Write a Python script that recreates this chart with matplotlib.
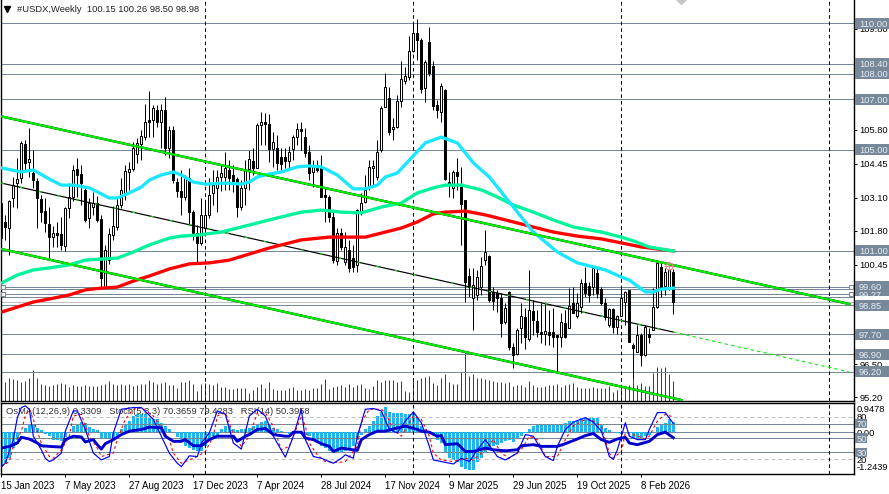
import matplotlib
matplotlib.use("Agg")
import matplotlib.pyplot as plt
from matplotlib.patches import Rectangle

# weekly candles, one row of OHLC per 10 bars
opens = [
    102.89, 102.14, 101.90, 103.09, 103.68, 103.88, 105.23, 104.51, 104.08, 103.76,
    103.05, 102.57, 102.06, 101.55, 101.70, 101.66, 101.19, 102.69, 103.13, 104.24,
    104.04, 103.41, 102.30, 102.73, 102.89, 102.26, 99.56, 100.63, 101.62, 101.94,
    102.81, 103.29, 104.12, 104.24, 104.83, 105.23, 105.50, 106.18, 106.18, 106.57,
    106.10, 106.57, 105.07, 105.78, 103.72, 103.37, 103.13, 103.88, 102.53, 101.70,
    101.31, 101.90, 102.42, 103.29, 103.49, 103.92, 103.92, 104.20, 104.00, 103.84,
    102.73, 103.49, 104.24, 104.55, 104.28, 105.98, 106.10, 106.02, 105.03, 105.07,
    104.71, 104.71, 104.55, 105.03, 105.50, 105.82, 105.50, 104.91, 104.12, 104.28,
    104.28, 103.21, 103.13, 102.34, 100.59, 101.70, 100.56, 101.03, 100.71, 100.44,
    102.50, 102.93, 103.52, 104.28, 103.92, 104.99, 106.69, 107.05, 105.82, 105.90,
    106.93, 107.72, 107.88, 108.91, 109.62, 109.35, 107.45, 109.27, 108.32, 106.77,
    106.49, 107.37, 103.72, 103.49, 104.12, 103.52, 103.01, 100.00, 99.13, 99.25,
    99.56, 100.63, 100.79, 99.37, 99.33, 99.13, 98.18, 99.37, 97.19, 96.91,
    97.94, 98.38, 97.51, 98.61, 98.22, 97.78, 97.70, 97.78, 97.78, 97.66,
    97.58, 98.14, 97.94, 98.93, 98.42, 98.77, 99.72, 99.60, 99.56, 100.12,
    99.49, 98.93, 98.06, 98.69, 97.98, 98.42, 98.97, 99.45, 97.27, 96.99,
    97.66, 96.87, 97.70, 97.86, 98.77, 100.36, 99.60, 99.56, 100.15,
]
highs = [
    103.01, 102.42, 103.01, 103.92, 104.67, 105.35, 105.39, 105.86, 104.99, 103.88,
    103.21, 103.09, 102.73, 101.98, 102.14, 102.34, 102.73, 103.68, 104.40, 104.67,
    104.40, 103.56, 103.09, 103.33, 103.17, 102.42, 101.23, 101.90, 102.77, 103.13,
    103.88, 104.40, 104.51, 105.31, 105.46, 105.78, 106.81, 107.33, 106.77, 106.77,
    106.81, 107.09, 105.94, 105.94, 103.88, 104.20, 104.00, 104.28, 102.61, 102.02,
    103.09, 103.01, 103.88, 104.20, 104.20, 104.40, 104.91, 104.59, 104.40, 103.92,
    103.80, 104.59, 104.99, 105.07, 106.06, 106.49, 106.45, 106.42, 105.70, 105.58,
    105.07, 105.07, 105.15, 105.58, 106.06, 106.10, 105.86, 105.19, 104.59, 104.59,
    104.79, 103.49, 103.21, 102.53, 101.90, 101.90, 101.74, 101.43, 101.23, 102.65,
    103.29, 104.00, 104.59, 104.59, 105.39, 106.73, 108.04, 107.48, 106.26, 107.17,
    108.51, 108.28, 109.50, 109.98, 110.18, 109.43, 108.55, 109.86, 108.51, 106.97,
    107.64, 107.41, 104.12, 104.20, 104.67, 104.32, 103.01, 100.32, 100.32, 100.24,
    100.75, 101.82, 100.83, 99.56, 99.45, 99.33, 98.93, 99.41, 97.35, 97.94,
    98.93, 98.73, 100.24, 99.05, 98.65, 98.93, 98.97, 98.65, 98.73, 97.66,
    98.54, 98.65, 99.52, 99.56, 99.33, 99.88, 100.36, 99.76, 100.32, 100.32,
    99.56, 99.13, 98.73, 98.73, 98.46, 99.52, 99.41, 99.45, 97.35, 98.06,
    97.74, 98.06, 97.94, 99.52, 100.52, 100.52, 100.32, 100.56, 100.26,
]
lows = [
    101.03, 101.43, 100.83, 102.73, 102.69, 103.68, 104.20, 103.92, 103.49, 101.90,
    102.14, 101.74, 100.71, 101.15, 101.15, 101.03, 100.99, 102.30, 102.97, 103.13,
    102.81, 102.14, 101.90, 102.42, 102.14, 99.56, 99.56, 100.48, 101.43, 101.82,
    102.69, 103.01, 103.41, 104.16, 104.48, 104.59, 105.39, 105.50, 105.50, 105.90,
    105.07, 104.79, 104.67, 103.68, 103.13, 102.42, 103.01, 102.02, 101.43, 100.56,
    101.23, 101.62, 102.30, 102.81, 102.53, 103.37, 103.41, 103.41, 103.33, 102.34,
    102.61, 102.81, 103.41, 104.00, 104.28, 105.19, 105.19, 104.51, 104.32, 104.20,
    104.20, 104.28, 104.20, 104.59, 105.19, 104.99, 104.71, 103.80, 103.53, 104.12,
    103.13, 102.14, 102.14, 100.52, 100.44, 101.03, 100.44, 100.16, 100.16, 100.16,
    102.42, 102.89, 103.41, 103.53, 103.80, 104.91, 106.69, 105.58, 105.39, 105.86,
    106.69, 107.60, 107.76, 108.87, 108.55, 107.25, 106.89, 107.92, 106.57, 106.26,
    106.10, 103.80, 103.13, 103.09, 103.41, 101.23, 98.97, 99.17, 97.86, 99.05,
    99.25, 100.44, 98.97, 98.65, 98.57, 97.58, 98.10, 97.07, 96.36, 96.87,
    97.35, 97.11, 97.43, 97.66, 97.58, 97.35, 97.27, 97.27, 97.19, 96.20,
    97.19, 97.54, 97.94, 98.54, 98.34, 98.54, 99.17, 98.97, 99.25, 99.13,
    98.85, 98.26, 97.98, 97.74, 97.70, 98.42, 98.06, 97.39, 95.96, 96.99,
    96.44, 96.83, 97.35, 97.86, 98.73, 99.17, 99.25, 99.45, 98.50,
]
closes = [
    101.51, 101.94, 102.97, 103.60, 103.84, 105.27, 104.48, 104.63, 103.80, 103.09,
    102.53, 102.10, 101.55, 101.70, 101.62, 101.23, 102.69, 103.13, 104.20, 104.00,
    103.68, 102.22, 102.89, 102.89, 102.22, 99.92, 101.03, 101.66, 101.98, 102.81,
    103.41, 104.16, 104.24, 105.07, 105.27, 105.54, 106.10, 106.10, 106.65, 106.10,
    106.57, 105.07, 105.78, 103.80, 103.37, 103.13, 103.88, 102.53, 101.70, 101.31,
    102.42, 102.42, 103.21, 103.60, 103.92, 104.08, 104.28, 103.88, 103.72, 102.73,
    103.49, 104.20, 104.63, 104.28, 105.98, 106.10, 106.02, 105.03, 105.31, 104.48,
    104.44, 104.55, 104.91, 105.50, 105.82, 105.74, 104.87, 104.08, 104.32, 104.20,
    103.13, 103.13, 102.34, 100.63, 101.70, 101.15, 101.15, 100.32, 100.36, 102.61,
    102.89, 103.41, 104.32, 104.36, 104.91, 106.65, 107.48, 105.70, 105.90, 106.93,
    107.80, 107.92, 108.91, 109.62, 109.35, 107.41, 108.47, 108.04, 106.73, 106.57,
    107.52, 103.84, 103.68, 104.12, 103.96, 102.85, 99.76, 99.56, 99.64, 99.96,
    100.40, 100.95, 99.05, 99.01, 99.13, 98.14, 98.73, 97.19, 96.87, 97.86,
    98.42, 97.58, 98.65, 98.26, 97.78, 97.70, 97.82, 97.66, 97.58, 97.58,
    98.18, 97.58, 98.81, 98.54, 98.93, 99.72, 99.33, 99.25, 100.32, 99.33,
    98.93, 98.38, 98.69, 97.98, 98.42, 99.13, 99.37, 97.39, 97.15, 97.66,
    96.87, 97.98, 97.58, 98.77, 100.52, 99.56, 100.16, 100.24, 98.98,
]
volumes = [
    24, 19, 23, 22, 21, 19, 20, 23, 31, 23, 17, 16, 15, 16, 17, 18,
    17, 14, 16, 15, 15, 16, 15, 15, 15, 16, 17, 20, 17, 16, 17, 16, 17, 15, 16, 17,
    17, 21, 19, 17, 18, 19, 16, 16, 13, 19, 19, 21, 17, 10, 17, 18, 17, 16, 18, 14,
    14, 12, 12, 13, 13, 13, 8, 11, 14, 17, 13, 19, 12, 11, 11, 11, 13, 14, 11,
    11, 12, 11, 13, 13, 17, 22, 12, 14, 15, 16, 14, 17, 14, 16, 17, 13, 12, 15, 21,
    19, 21, 21, 21, 19, 20, 10, 9, 22, 21, 23, 24, 25, 18, 16, 23, 27, 19, 17, 17,
    29, 49, 25, 27, 23, 23, 22, 21, 20, 19, 19, 18, 19, 15, 16, 16, 14, 20, 16, 14,
    14, 15, 16, 16, 17, 14, 16, 17, 18, 14, 13, 13, 13, 14, 13,
    13, 13, 15, 9, 11, 14, 15, 16, 24, 16, 18, 15, 15, 28, 34, 33, 34, 27, 20,
]

# moving averages, read at the bars where they bend
ma_fast_bars = [0, 5, 8, 12, 15, 18, 22, 25, 27, 29, 32, 35, 37, 40, 43, 45, 48, 51, 56, 60,
                62, 64, 67, 70, 74, 77, 80, 84, 88, 91, 94, 96, 99, 102, 106, 110, 114, 118,
                122, 127, 133, 139, 144, 148, 151, 155, 157, 161, 163, 165, 168]
ma_fast = [104.28, 104.12, 104.20, 103.84, 103.60, 103.60, 103.49, 103.25, 103.09, 103.09,
           103.29, 103.52, 103.80, 104.00, 104.12, 104.00, 103.72, 103.64, 103.68, 103.64,
           103.72, 103.92, 104.04, 104.12, 104.32, 104.36, 104.32, 104.00, 103.45, 103.45,
           103.60, 103.92, 104.08, 104.59, 105.27, 105.50, 105.27, 104.48, 103.92, 102.93,
           101.74, 100.95, 100.52, 100.36, 100.24, 99.96, 99.84, 99.37, 99.37, 99.48, 99.52]
ma_mid_bars = [0, 4, 8, 12, 17, 21, 25, 29, 33, 37, 42, 45, 49, 55, 60, 65, 70, 75, 80, 85,
               90, 95, 100, 104, 108, 111, 115, 120, 124, 128, 133, 138, 143, 150, 155, 158,
               162, 168]
ma_mid = [99.72, 100.04, 100.24, 100.32, 100.44, 100.63, 100.67, 100.71, 100.95, 101.23,
          101.50, 101.58, 101.62, 101.74, 101.94, 102.14, 102.34, 102.53, 102.61, 102.53,
          102.50, 102.73, 102.89, 103.29, 103.49, 103.60, 103.60, 103.41, 103.13, 102.81,
          102.53, 102.22, 101.94, 101.74, 101.54, 101.39, 101.15, 100.99]
ma_slow_bars = [0, 4, 8, 12, 17, 21, 25, 29, 33, 37, 42, 47, 52, 57, 62, 67, 75, 82, 91, 96,
                100, 104, 108, 111, 116, 121, 126, 132, 138, 144, 150, 155, 160, 162, 168]
ma_slow = [98.57, 98.77, 98.97, 99.09, 99.25, 99.45, 99.52, 99.56, 99.80, 100.00, 100.28,
           100.48, 100.52, 100.63, 100.87, 101.11, 101.43, 101.54, 101.54, 101.74, 101.90,
           102.14, 102.46, 102.53, 102.57, 102.42, 102.22, 101.98, 101.74, 101.58, 101.47,
           101.31, 101.15, 101.11, 100.99]

# trend channel end points
upper_bars = [0, 212]
upper_prices = [106.32, 98.89]
middle_bars = [0, 168]
middle_prices = [103.68, 97.78]
middle_ext_bars = [168, 212]
middle_ext_prices = [97.78, 96.20]
lower_bars = [0, 170]
lower_prices = [101.07, 95.09]

# horizontal levels
levels = [110.00, 108.40, 108.00, 107.00, 105.00, 101.00, 99.58, 99.47, 99.27, 99.15, 98.85,
          97.70, 96.90, 96.20]
level_labels = {110.00: "110.00", 108.40: "108.40", 108.00: "108.00", 107.00: "107.00",
                105.00: "105.00", 101.00: "101.00", 99.58: "99.60", 99.27: "99.27",
                98.85: "98.85", 97.70: "97.70", 96.90: "96.90", 96.20: "96.20"}
handle_levels = [99.58, 99.27]
last_price = 98.98
price_ticks = [109.80, 105.80, 104.45, 103.10, 101.80, 100.45, 99.15, 96.50, 95.20]
price_labels = ["109.80", "105.80", "104.45", "103.10", "101.80", "100.45", "", "96.50", "95.20"]
separator_bars = [51, 103, 155, 207]
date_bars = [0, 16, 32, 48, 64, 80, 96, 112, 128, 144, 160]
date_labels = ["15 Jan 2023", "7 May 2023", "27 Aug 2023", "17 Dec 2023", "7 Apr 2024",
               "28 Jul 2024", "17 Nov 2024", "9 Mar 2025", "29 Jun 2025", "19 Oct 2025",
               "8 Feb 2026"]

# lower panel
osma = [
    -1.05, -.99, -.83, -.5, -.24, .02, .14, .22, .25, .14,
    .06, -.04, -.13, -.24, -.26, -.27, -.15, .01, .19, .28,
    .32, .3, .17, .11, .06, -.18, -.2, -.2, -.18, -.13,
    .11, .22, .35, .52, .57, .57, .57, .46, .43, .41,
    .3, .19, .11, .01, -.15, -.29, -.43, -.5, -.56, -.61,
    -.58, -.45, -.24, -.13, -.08, .09, .19, .19, .09, .06,
    .09, .11, .14, .19, .27, .32, .35, .28, .14, .11,
    .03, .01, -.04, -.02, -.02,
    -.05, -.09, -.13, -.2, -.35, -.45, -.5, -.58, -.61, -.64,
    -.63, -.61, -.54, -.45, -.24, -.08, .09, .19, .35, .52,
    .64, .82, .65, .62, .62, .6, .57, .57, .57, .46,
    .19, .11, .01, -.08, -.24, -.34, -.67, -.83, -.88, -.94,
    -1.1, -1.18, -1.2, -1.2, -.94, -.83, -.67, -.56, -.45, -.4,
    -.34, -.29, -.24, -.3, -.2, -.13, -.02, .12, .19, .25,
    .25, .25, .25, .25, .25, .28, .3, .35, .35, .35,
    .46, .48, .46, .46, .44,
    .25, .14, .06, .01, -.02, -.05, .01, -.02, -.21, -.21,
    -.21, -.13, -.08, .01, .17, .25, .3, .41, .33,
]
stoch_bars = [0, 1, 3, 4, 5, 6, 7, 8, 10, 11, 12, 13, 15, 16, 18, 19, 21, 23, 25, 27, 28, 30, 33,
              35, 38, 40, 42, 44, 45, 47, 49, 50, 52, 54, 56, 58, 60, 62, 64, 66, 68, 71, 73, 75,
              76, 78, 80, 83, 85, 86, 88, 89, 91, 93, 95, 97, 99, 101, 103, 105, 107, 108, 110,
              113, 115, 117, 119, 121, 124, 126, 129, 131, 133, 136, 138, 139, 141, 143, 146,
              148, 150, 151, 152, 153, 154, 156, 157, 159, 161, 162, 164, 166, 168]
stoch_main = [9.6, 14.4, 47.7, 78.6, 92.9, 95.3, 90.5, 52.5, 33.4, 21.5, 16.8, 19.1, 28.7, 59.6,
              88.2, 88.2, 62, 28.7, 19.1, 23.9, 57.2, 90.5, 92.9, 92.9, 76.3, 52.5, 28.7, 14.4,
              9.6, 24.9, 23.9, 42.9, 57.2, 88.2, 83.4, 42.9, 34.4, 81, 90.5, 81, 52.5, 23, 52.5,
              90.5, 47.7, 23.9, 21.5, 14.4, 21.5, 26.3, 21.5, 52.5, 90.5, 91.5, 88.2, 62, 57.2,
              73.9, 86.7, 71.5, 38.2, 19.1, 16.8, 13.4, 21.5, 16.8, 33.4, 47.7, 23.9, 19.1, 28.7,
              54.8, 52.5, 23.9, 18.2, 38.2, 62, 72.4, 78.6, 72.4, 59.6, 42.9, 23.9, 20.1, 33.4,
              71.5, 52.5, 47.7, 47.7, 62, 85.8, 85.8, 70.37]
signal_bars = [0, 2, 3, 5, 6, 7, 8, 10, 12, 13, 15, 17, 18, 20, 22, 24, 25, 28, 29, 31, 33, 35,
               38, 40, 42, 43, 45, 46, 49, 51, 53, 54, 56, 58, 60, 62, 64, 66, 68, 70, 72, 74,
               75, 76, 77, 79, 81, 84, 86, 87, 89, 90, 92, 95, 96, 98, 100, 103, 105, 107, 108,
               110, 113, 116, 118, 120, 123, 125, 127, 130, 132, 134, 136, 139, 141, 143, 146,
               148, 150, 151, 152, 153, 155, 156, 158, 161, 162, 164, 166, 168]
stoch_signal = [9.6, 16.8, 38.2, 59.6, 81, 90.5, 76.3, 42.9, 23.9, 21.5, 33.4, 52.5, 81, 83.4,
                52.5, 35.8, 23.9, 28.7, 47.7, 76.3, 90.5, 92.9, 81, 64.4, 47.7, 28.7, 14.4, 16.8,
                23.9, 31, 52.5, 81, 85.8, 54.8, 38.2, 52.5, 85.8, 85.8, 66.7, 33.4, 38.2, 66.7,
                81, 66.7, 42.9, 26.3, 16.8, 15.3, 16.8, 23.9, 38.2, 71.5, 90.5, 90.5, 85.8, 62,
                52.5, 81, 76.3, 52.5, 28.7, 19.1, 16.8, 21.5, 19.1, 28.7, 47.7, 28.7, 21.5, 33.4,
                52.5, 47.7, 23.9, 23.9, 47.7, 66.7, 76.3, 73.9, 66.7, 47.7, 28.7, 21.5, 31, 57.2,
                54.8, 48.6, 52.5, 73.9, 83.4, 79.43]
rsi_bars = [0, 2, 4, 5, 7, 9, 10, 12, 15, 16, 18, 20, 21, 23, 24, 25, 26, 28, 30, 32, 35, 37, 40,
            41, 43, 45, 46, 48, 50, 52, 54, 56, 58, 59, 61, 62, 64, 66, 68, 71, 72, 73, 75, 76,
            78, 80, 82, 83, 85, 89, 90, 92, 94, 96, 98, 101, 104, 105, 107, 109, 110, 111, 114,
            116, 118, 121, 123, 126, 129, 130, 133, 135, 139, 141, 144, 146, 148, 150, 152, 154,
            156, 157, 159, 162, 164, 166, 168]
rsi = [35.8, 38.2, 42.9, 51, 48.6, 42.9, 39.1, 38.2, 37.2, 47.7, 52.5, 51.5, 44.4, 47.7, 40.6,
       34.4, 42, 47.7, 54.8, 59.6, 62, 65.3, 64.4, 52.5, 45.3, 45.3, 47.7, 39.1, 39.1, 47.7, 52.5,
       52.5, 52.5, 45.3, 52.5, 54.8, 62, 63.4, 54.8, 52.5, 52.5, 58.2, 58.2, 50, 47.7, 42, 38.2,
       31, 35.8, 32.5, 47.7, 54.8, 59.6, 59.6, 62.9, 66.7, 62, 59.6, 58.2, 52.5, 53.4, 40.6, 42,
       31, 31, 35.8, 33.4, 32, 33.4, 39.1, 40.6, 38.2, 38.2, 42, 48.6, 53.4, 56.3, 47.7, 43.9,
       48.6, 51, 42.9, 40.6, 45.3, 54.8, 58.2, 50.4]

FONT = "Liberation Sans"
FS = 6.7
SLATE = "#76889a"
PX = 0.72  # one pixel in points at dpi 100
W, H = 889, 494


def add_box(ax, y, text, x0, x1, box_h, trans, dx=0.0045):
    # price label box right of the plot
    ax.add_patch(Rectangle((x0, y - box_h / 2), x1 - x0, box_h, transform=trans,
                           facecolor=SLATE, edgecolor="none", clip_on=False, zorder=6))
    ax.text(x0 + dx, y, text, transform=trans, color="#e9edf1", fontsize=FS,
            family=FONT, va="center_baseline", ha="left", clip_on=False, zorder=7)


def draw_main(ax):
    n = len(closes)
    bars = list(range(n))
    ax.set_xlim(-0.08, 213.04)
    ax.set_ylim(95.05, 110.93)

    for lv in levels:
        ax.axhline(lv, color=SLATE, lw=PX, zorder=1)
    ax.axhline(last_price, color="#c0c0c0", lw=PX, zorder=1)
    for b in separator_bars:
        ax.axvline(b, color="black", lw=PX, dashes=(3.6, 3), zorder=2)

    ax.vlines(bars, lows, highs, color="black", lw=PX, zorder=3, snap=True)
    for i in bars:
        up = closes[i] >= opens[i]
        top = max(opens[i], closes[i])
        bot = min(opens[i], closes[i])
        ax.add_patch(Rectangle((i - 0.25, bot), 0.5, top - bot, facecolor="white" if up else "black",
                               edgecolor="black", lw=PX, zorder=3.1, snap=True))

    ax.plot(upper_bars, upper_prices, color="black", lw=2.3 * PX, zorder=4)
    ax.plot(middle_bars, middle_prices, color="black", lw=1.2 * PX, zorder=4)
    ax.plot(middle_bars, middle_prices, color="#00ee00", lw=1.2 * PX, dashes=(2, 14), zorder=4.1)
    ax.plot(middle_ext_bars, middle_ext_prices, color="#00ee00", lw=1.1 * PX, dashes=(3, 3), zorder=4)
    ax.plot(lower_bars, lower_prices, color="black", lw=2.3 * PX, zorder=4)

    ax.plot(ma_slow_bars, ma_slow, color="#ff0000", lw=3.3 * PX, zorder=5)
    ax.plot(ma_mid_bars, ma_mid, color="#00f59b", lw=3.3 * PX, zorder=5.1)
    ax.plot(ma_fast_bars, ma_fast, color="#19e6ff", lw=3.3 * PX, zorder=5.2)
    ax.plot(upper_bars, upper_prices, color="#00ee00", lw=2.2 * PX, zorder=5.3)
    ax.plot(lower_bars, lower_prices, color="#00ee00", lw=2.2 * PX, zorder=5.3)

    # handles of the two selected levels
    ax.plot([0.5, 212.4] * 2, [handle_levels[0]] * 2 + [handle_levels[1]] * 2, ls="none", marker="s",
            ms=3.3, mfc="white", mec="#76889a", mew=0.8, zorder=6)
    # bid marker and the diamond clipped at the top edge
    ax.plot([167], [100.40], ls="none", marker="o", ms=5, mfc="none", mec="#f08080", mew=0.8, zorder=6)
    ax.plot([167], [100.40], ls="none", marker="+", ms=7, mec="#f08080", mew=0.7, zorder=6)
    ax.plot([170], [110.97], ls="none", marker="D", ms=5.5, color="#c4c4c4", zorder=6)

    ax.yaxis.tick_right()
    ax.set_yticks(price_ticks)
    ax.set_yticklabels(price_labels, fontsize=FS, family=FONT)
    ax.tick_params(axis="y", length=2.2, width=PX, pad=2.2)
    ax.set_xticks([])
    ax.spines["top"].set_visible(False)
    for s in ["left", "right", "bottom"]:
        ax.spines[s].set_linewidth(1.4 * PX)

    trans = ax.get_yaxis_transform()
    x0 = 1 + 1.5 / 852.5
    x1 = 1 + 35 / 852.5
    box_h = 11 / 25.25
    for lv, txt in level_labels.items():
        add_box(ax, lv, txt, x0, x1, box_h, trans)
    # the next label paints white over the bottom of 99.27
    ax.add_patch(Rectangle((x0, 99.03), x1 - x0, 0.17, transform=trans, facecolor="white",
                           edgecolor="none", clip_on=False, zorder=7.5))
    ax.add_patch(Rectangle((x0, 98.67), x1 - x0, 0.36, transform=trans, facecolor=SLATE,
                           edgecolor="none", clip_on=False, zorder=7.6))
    ax.text(x0 + 0.0045, 98.85, "98.85", transform=trans, color="#e9edf1", fontsize=FS,
            family=FONT, va="center_baseline", ha="left", clip_on=False, zorder=7.7)

    ax.plot([0.0075], [0.977], marker="v", ms=4.5, color="black", transform=ax.transAxes,
            clip_on=False, zorder=8)
    ax.text(16 / 852.5, 0.98, "#USDX,Weekly  100.15 100.26 98.50 98.98", transform=ax.transAxes,
            fontsize=FS + 0.05, family=FONT, color="#222222", va="center_baseline", ha="left", zorder=8)


def draw_volume(ax):
    ax.set_xlim(-0.08, 213.04)
    ax.set_ylim(0, 401)
    ax.vlines(range(len(volumes)), 0, volumes, color="#006b00", lw=PX, snap=True)
    ax.axis("off")


def draw_indicators(ax):
    ax.set_xlim(-0.08, 213.04)
    ax.set_ylim(0, 100)
    for lv in [70, 50, 30]:
        ax.axhline(lv, color=SLATE, lw=PX, zorder=1)
    for lv in [80, 20]:
        ax.axhline(lv, color="#c0c0c0", lw=PX, dashes=(4, 3), zorder=1)
    for b in separator_bars:
        ax.axvline(b, color="black", lw=PX, dashes=(3.6, 3), zorder=6)

    ax_osma = ax.twinx()
    ax_osma.set_ylim(-1.31, 0.9478)
    ax_osma.axhline(0, color=SLATE, lw=PX, zorder=1)
    ax_osma.bar(range(len(osma)), osma, width=0.75, color="#22b4ee", zorder=2)
    ax_osma.set_yticks([])
    ax_osma.patch.set_visible(False)
    for s in ax_osma.spines.values():
        s.set_visible(False)
    ax.set_zorder(ax_osma.get_zorder() + 1)
    ax.patch.set_visible(False)

    ax.plot(stoch_bars, stoch_main, color="#0000ff", lw=1.2 * PX, zorder=4)
    ax.plot(signal_bars, stoch_signal, color="#ff0000", lw=1.1 * PX, dashes=(2.5, 2.5), zorder=3.9)
    ax.plot(rsi_bars, rsi, color="#0000cd", lw=2.9 * PX, zorder=5)

    ax.text(5 / 852.5, 0.885, "OsMA(12,26,9) 0.3309   Stoch(5,3,3) 70.3659 79.4283   RSI(14) 50.3958",
            transform=ax.transAxes, fontsize=FS + 0.05, family=FONT, color="#333333",
            va="center_baseline", zorder=3)

    ax.set_xticks(date_bars)
    ax.set_xticklabels(date_labels, fontsize=7.0, family=FONT, ha="left")
    ax.tick_params(axis="x", length=2.5, width=PX, pad=3)
    ax.set_yticks([])
    for s in ax.spines.values():
        s.set_linewidth(1.4 * PX)

    trans = ax.get_yaxis_transform()
    x0 = 1 + 1.5 / 852.5
    # right scale: percent levels and the OsMA range, placed on the panel scale
    for val, txt in [(92, "0.9478"), (80, "80"), (57.6, "0.00"), (20, "20"), (9.5, "-1.2439")]:
        ax.text(x0 + 0.0023, val, txt, transform=trans, fontsize=FS, family=FONT,
                va="center_baseline", clip_on=False, zorder=5)
    for val, txt in [(70, "70"), (50, "50"), (30, "30")]:
        add_box(ax, val, txt, x0, x0 + 12 / 852.5, 13, trans, dx=0.0023)


def main():
    fig = plt.figure(figsize=(W / 100, H / 100), dpi=100, facecolor="white")
    rect_main = [1 / W, 1 - 401 / H, 852.5 / W, 401 / H]
    rect_ind = [1 / W, 1 - 473.5 / H, 852.5 / W, 71 / H]

    ax_vol = fig.add_axes(rect_main, zorder=1)
    ax_main = fig.add_axes(rect_main, zorder=2)
    ax_main.patch.set_visible(False)
    ax_ind = fig.add_axes(rect_ind, zorder=3)

    draw_volume(ax_vol)
    draw_main(ax_main)
    draw_indicators(ax_ind)

    fig.savefig("out.png", dpi=100)
    plt.close(fig)


if __name__ == "__main__":
    main()
